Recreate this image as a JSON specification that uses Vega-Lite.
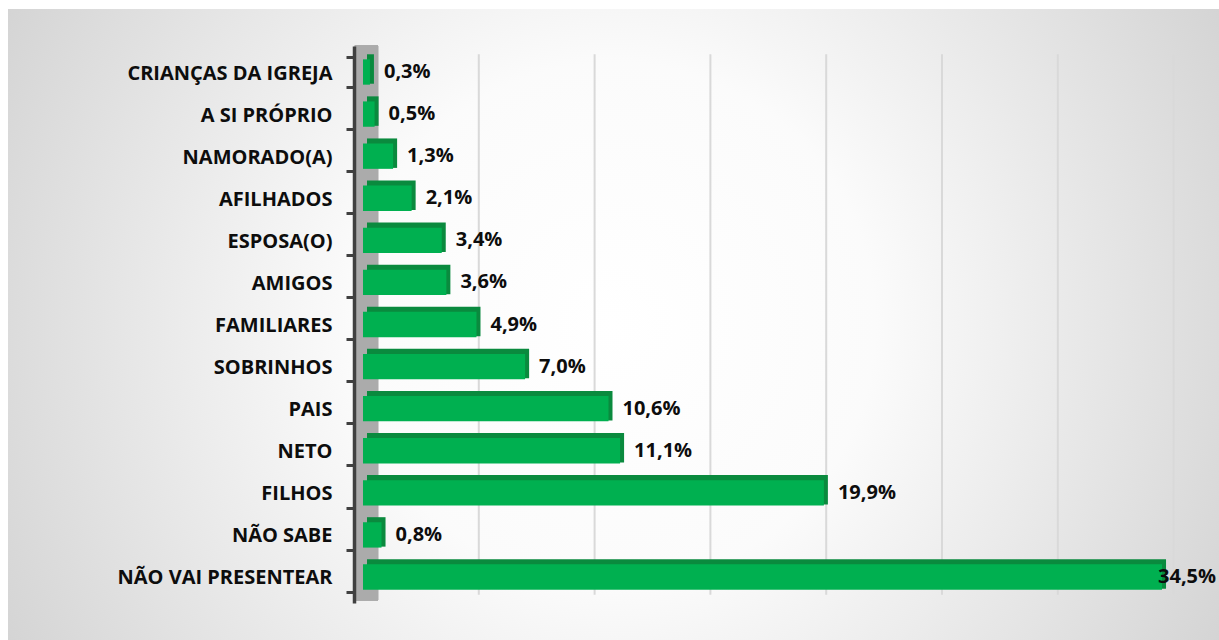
{
  "$schema": "https://vega.github.io/schema/vega-lite/v6.json",
  "width": 1211,
  "height": 631,
  "autosize": {"type": "none"},
  "padding": {"left": 8, "top": 9, "right": 0, "bottom": 0},
  "background": "#ffffff",
  "view": {
    "stroke": null,
    "fill": {
      "gradient": "radial",
      "x1": 0.5, "y1": 0.5, "r1": 0,
      "x2": 0.5, "y2": 0.5, "r2": 0.72,
      "stops": [
        {"offset": 0, "color": "#ffffff"},
        {"offset": 0.3, "color": "#fbfbfb"},
        {"offset": 1, "color": "#c3c3c3"}
      ]
    }
  },
  "config": {
    "locale": {"number": {"decimal": ",", "thousands": ".", "grouping": [3], "currency": ["R$", ""]}},
    "font": "Open Sans"
  },
  "datasets": {
    "main": [
      {"cat": "CRIANÇAS DA IGREJA", "v": 0.003},
      {"cat": "A SI PRÓPRIO", "v": 0.005},
      {"cat": "NAMORADO(A)", "v": 0.013},
      {"cat": "AFILHADOS", "v": 0.021},
      {"cat": "ESPOSA(O)", "v": 0.034},
      {"cat": "AMIGOS", "v": 0.036},
      {"cat": "FAMILIARES", "v": 0.049},
      {"cat": "SOBRINHOS", "v": 0.07},
      {"cat": "PAIS", "v": 0.106},
      {"cat": "NETO", "v": 0.111},
      {"cat": "FILHOS", "v": 0.199},
      {"cat": "NÃO SABE", "v": 0.008},
      {"cat": "NÃO VAI PRESENTEAR", "v": 0.345}
    ],
    "grid": [
      {"g": 0.05}, {"g": 0.10}, {"g": 0.15}, {"g": 0.20}, {"g": 0.25}, {"g": 0.30}, {"g": 0.35}
    ]
  },
  "data": {"name": "main"},
  "encoding": {
    "y": {
      "field": "cat",
      "type": "nominal",
      "sort": null,
      "scale": {
        "domain": ["CRIANÇAS DA IGREJA", "A SI PRÓPRIO", "NAMORADO(A)", "AFILHADOS", "ESPOSA(O)", "AMIGOS", "FAMILIARES", "SOBRINHOS", "PAIS", "NETO", "FILHOS", "NÃO SABE", "NÃO VAI PRESENTEAR"],
        "range": [37, 594], "paddingInner": 0.3, "paddingOuter": 0.268
      },
      "axis": {
        "title": null,
        "orient": "left",
        "offset": -346,
        "zindex": 1,
        "domainColor": "#404040",
        "domainWidth": 3.5,
        "tickColor": "#404040",
        "tickWidth": 3,
        "tickSize": 8,
        "tickBand": "extent",
        "tickOffset": -5,
        "labelOffset": 1,
        "labelPadding": 14,
        "labelFont": "Open Sans",
        "labelFontSize": 20,
        "labelFontWeight": "bold",
        "labelColor": "#0d0d0d",
        "labelLimit": 400
      }
    }
  },
  "layer": [
    {
      "mark": {"type": "rect", "color": "#ababab"},
      "encoding": {
        "x": {"datum": -0.0035, "type": "quantitative", "scale": {"domain": [-0.15328, 0.3696], "nice": false, "zero": false}, "axis": null},
        "x2": {"datum": 0.0065},
        "y": {"datum": "CRIANÇAS DA IGREJA", "bandPosition": -0.4},
        "y2": {"datum": "NÃO VAI PRESENTEAR", "bandPosition": 1.3}
      }
    },
    {
      "data": {"name": "grid"},
      "mark": {"type": "rule", "color": "#d9d9d9", "strokeWidth": 2},
      "encoding": {
        "x": {"field": "g", "type": "quantitative"},
        "y": {"datum": "CRIANÇAS DA IGREJA", "bandPosition": -0.1},
        "y2": {"datum": "NÃO VAI PRESENTEAR", "bandPosition": 1.1}
      }
    },
    {
      "mark": {"type": "bar", "color": "#0a8a3e", "height": {"band": 1}, "yOffset": -3, "xOffset": 4, "x2Offset": 4},
      "encoding": {"x": {"field": "v", "type": "quantitative"}}
    },
    {
      "mark": {"type": "bar", "color": "#00b050", "height": {"band": 0.86}},
      "encoding": {"x": {"field": "v", "type": "quantitative"}}
    },
    {
      "transform": [{"filter": "datum.v < 0.3"}],
      "mark": {"type": "text", "align": "left", "baseline": "middle", "dx": 14, "font": "Open Sans", "fontSize": 20, "fontWeight": "bold", "color": "#0d0d0d"},
      "encoding": {
        "x": {"field": "v", "type": "quantitative"},
        "text": {"field": "v", "type": "quantitative", "format": ".1%"}
      }
    },
    {
      "transform": [{"filter": "datum.v >= 0.3"}],
      "mark": {"type": "text", "align": "left", "baseline": "middle", "dx": -4, "font": "Open Sans", "fontSize": 20, "fontWeight": "bold", "color": "#0d0d0d"},
      "encoding": {
        "x": {"field": "v", "type": "quantitative"},
        "text": {"field": "v", "type": "quantitative", "format": ".1%"}
      }
    }
  ]
}
